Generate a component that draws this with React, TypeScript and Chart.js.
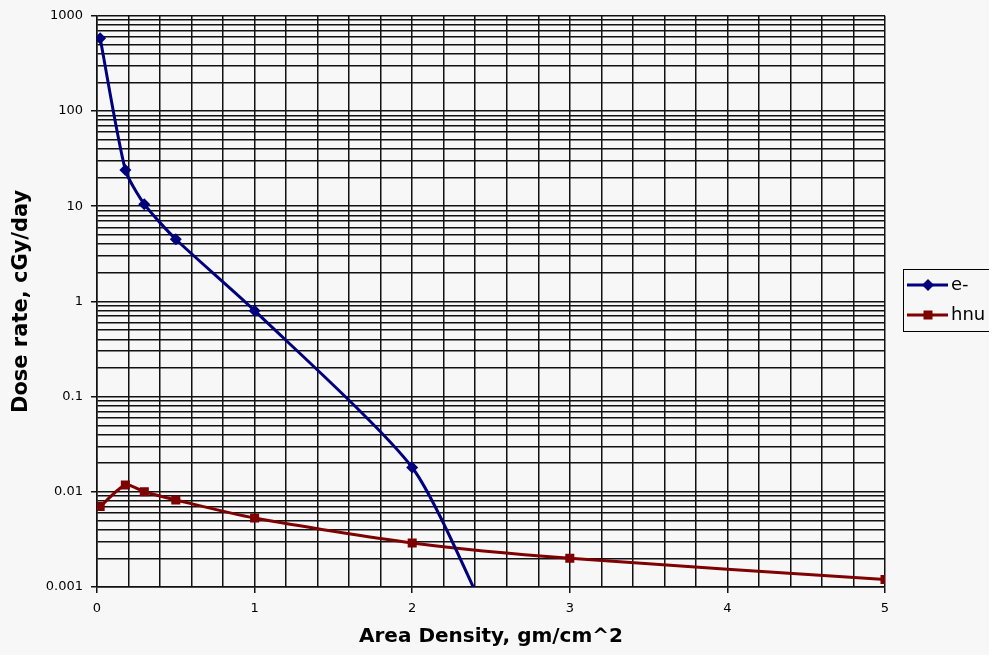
import React, { useEffect, useRef } from "react";
import { Chart, registerables } from "chart.js";

Chart.register(...registerables);

// ---- data ----
const electronX = [0.02, 0.18, 0.3, 0.5, 1, 2, 2.5];
const electronY = [580, 24, 10.5, 4.5, 0.8, 0.018, 0.0004];
const photonX = [0.02, 0.18, 0.3, 0.5, 1, 2, 3, 5];
const photonY = [0.007, 0.0118, 0.01, 0.0082, 0.0053, 0.0029, 0.002, 0.0012];
const seriesLabels = ["e-", "hnu"];
const yDecades = [0.001, 0.01, 0.1, 1, 10, 100, 1000];
const yTickLabels = ["0.001", "0.01", "0.1", "1", "10", "100", "1000"];
const yMinorMultipliers = [1, 2, 3, 4, 5, 6, 7, 8, 9];
const xTickLabels = ["0", "1", "2", "3", "4", "5"];
const xTitle = "Area Density, gm/cm^2";
const yTitle = "Dose rate, cGy/day";

const BG = "#f7f7f7";
const BLUE = "#00007f";
const RED = "#7f0000";
const GRID = "#111";

const isDecade = (v: number) => Math.abs(Math.log10(v) - Math.round(Math.log10(v))) < 1e-9;
const isInt = (v: number) => Math.abs(v - Math.round(v)) < 1e-9;

const bgPlugin = {
  id: "bg",
  beforeDraw(chart: any) {
    const { ctx, width, height } = chart;
    ctx.save();
    ctx.fillStyle = BG;
    ctx.fillRect(0, 0, width, height);
    ctx.restore();
  },
};

const legendPlugin = {
  id: "boxLegend",
  afterDraw(chart: any) {
    const ctx = chart.ctx;
    const left = 903.5;
    const top = 269.5;
    ctx.save();
    ctx.fillStyle = BG;
    ctx.fillRect(left, top, 120, 62);
    ctx.strokeStyle = "#000";
    ctx.lineWidth = 1;
    ctx.strokeRect(left, top, 120, 62);
    const rows = [285, 315];
    chart.data.datasets.forEach((ds: any, i: number) => {
      const y = rows[i];
      ctx.strokeStyle = ds.borderColor;
      ctx.lineWidth = 3;
      ctx.beginPath();
      ctx.moveTo(907, y);
      ctx.lineTo(948, y);
      ctx.stroke();
      ctx.fillStyle = ds.borderColor;
      ctx.beginPath();
      if (ds.pointStyle === "rectRot") {
        const r = 6;
        ctx.moveTo(928 - r, y);
        ctx.lineTo(928, y - r);
        ctx.lineTo(928 + r, y);
        ctx.lineTo(928, y + r);
        ctx.closePath();
      } else {
        ctx.rect(928 - 4.5, y - 4.5, 9, 9);
      }
      ctx.fill();
      ctx.fillStyle = "#000";
      ctx.font = "18px 'DejaVu Sans'";
      ctx.textBaseline = "middle";
      ctx.textAlign = "left";
      ctx.fillText(ds.label, 951, y);
    });
    ctx.restore();
  },
};

export default function App() {
  const ref = useRef<HTMLCanvasElement | null>(null);

  useEffect(() => {
    if (!ref.current) return;
    const yGrid: number[] = [];
    yDecades.forEach((d, i) => {
      if (i === yDecades.length - 1) {
        yGrid.push(d);
      } else {
        yMinorMultipliers.forEach((m) => yGrid.push(m * d));
      }
    });

    const chart = new Chart(ref.current, {
      type: "line",
      data: {
        datasets: [
          {
            label: seriesLabels[0],
            data: electronX.map((x, i) => ({ x, y: electronY[i] })),
            borderColor: BLUE,
            backgroundColor: BLUE,
            borderWidth: 3,
            pointStyle: "rectRot",
            pointRadius: 6,
            pointHoverRadius: 6,
            pointBorderWidth: 0,
            tension: 0.22,
            fill: false,
          },
          {
            label: seriesLabels[1],
            data: photonX.map((x, i) => ({ x, y: photonY[i] })),
            borderColor: RED,
            backgroundColor: RED,
            borderWidth: 3,
            pointStyle: "rect",
            pointRadius: 6.4,
            pointHoverRadius: 6.4,
            pointBorderWidth: 0,
            tension: 0.25,
            fill: false,
          },
        ],
      },
      options: {
        responsive: false,
        animation: false,
        events: [],
        layout: { padding: { left: 0, right: 104, top: 13, bottom: 0 } },
        plugins: {
          legend: { display: false },
          tooltip: { enabled: false },
        },
        scales: {
          x: {
            type: "linear",
            min: 0,
            max: 5,
            afterFit: (s: any) => {
              s.height = 68;
            },
            ticks: {
              stepSize: 0.2,
              autoSkip: false,
              maxRotation: 0,
              padding: 8,
              color: "#000",
              font: { family: "'DejaVu Sans'", size: 13 },
              callback: (v: any) => (isInt(Number(v)) ? xTickLabels[Math.round(Number(v))] : ""),
            },
            grid: {
              color: GRID,
              lineWidth: 1.5,
              tickLength: 6,
              tickColor: (c: any) => (c.tick && isInt(c.tick.value) ? GRID : "rgba(0,0,0,0)"),
            },
            border: { color: GRID, width: 1.5 },
            title: {
              display: true,
              text: xTitle,
              color: "#000",
              font: { family: "'DejaVu Sans'", size: 20, weight: "bold", lineHeight: 1 },
              padding: { top: 0, bottom: 8 },
            },
          },
          y: {
            type: "logarithmic",
            min: 0.001,
            max: 1000,
            afterFit: (s: any) => {
              s.width = 97;
            },
            afterBuildTicks: (s: any) => {
              s.ticks = yGrid.map((v) => ({ value: v, major: isDecade(v) }));
            },
            ticks: {
              autoSkip: false,
              padding: 8,
              color: "#000",
              font: { family: "'DejaVu Sans'", size: 13 },
              callback: (v: any) => {
                const idx = yDecades.findIndex((d) => Math.abs(d - Number(v)) < d * 1e-9);
                return idx >= 0 ? yTickLabels[idx] : "";
              },
            },
            grid: {
              color: GRID,
              lineWidth: 1.5,
              tickLength: 6,
              tickColor: (c: any) => (c.tick && isDecade(c.tick.value) ? GRID : "rgba(0,0,0,0)"),
            },
            border: { color: GRID, width: 1.5 },
            title: {
              display: true,
              text: yTitle,
              color: "#000",
              font: { family: "'DejaVu Sans'", size: 21, weight: "bold", lineHeight: 1 },
              padding: { top: 11, bottom: 0 },
            },
          },
        },
      },
      plugins: [bgPlugin, legendPlugin],
    } as any);
    return () => chart.destroy();
  }, []);

  return (
    <div style={{ position: "absolute", left: 0, top: 0, width: 989, height: 655, background: BG }}>
      <canvas ref={ref} width={989} height={655} style={{ display: "block" }} />
    </div>
  );
}
